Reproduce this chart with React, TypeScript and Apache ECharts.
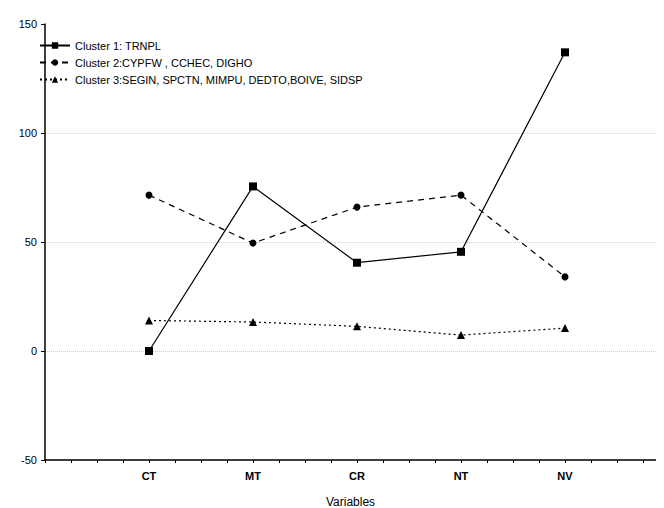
import React, { useEffect, useRef } from "react";
import * as echarts from "echarts";

const categories = ["CT", "MT", "CR", "NT", "NV"];
const seriesNames = [
  "Cluster 1: TRNPL",
  "Cluster 2:CYPFW , CCHEC, DIGHO",
  "Cluster 3:SEGIN, SPCTN, MIMPU, DEDTO,BOIVE, SIDSP",
];
const cluster1 = [0, 75.5, 40.5, 45.5, 137];
const cluster2 = [71.5, 49.5, 66, 71.5, 34];
const cluster3 = [14, 13.3, 11.3, 7.3, 10.5];

export default function App() {
  const ref = useRef<HTMLDivElement>(null);
  useEffect(() => {
    const chart = echarts.init(ref.current!, null, { renderer: "svg" });
    const mk = (vals: number[]) => vals.map((v, i) => [i + 1, v]);
    const lineTypes: any[] = ["solid", [6, 5], [2, 3]];
    const symbols = ["rect", "circle", "triangle"];
    const all = [cluster1, cluster2, cluster3];
    chart.setOption({
      animation: false,
      textStyle: { fontFamily: "Arial, Liberation Sans, sans-serif" },
      grid: { left: 37, right: 0, top: 16, bottom: 48, outerBoundsMode: "none", containLabel: false } as any,
      legend: {
        left: 26,
        top: 27,
        orient: "vertical",
        itemGap: 6,
        itemWidth: 30,
        itemHeight: 8,
        textStyle: { fontSize: 11, color: "#000" },
        data: seriesNames,
      },
      xAxis: {
        type: "value",
        min: 0,
        max: 5.875,
        interval: 0.25,
        name: "Variables",
        nameLocation: "middle",
        nameGap: 36,
        nameTextStyle: { fontSize: 12, color: "#000" },
        axisLine: { onZero: false, lineStyle: { color: "#000", width: 1.5 } },
        axisTick: { lineStyle: { color: "#000" }, length: 3, inside: false },
        splitLine: { show: false },
        axisLabel: {
          fontSize: 11,
          fontWeight: "bold",
          color: "#000",
          margin: 10,
          showMaxLabel: false,
          formatter: (v: number) =>
            Number.isInteger(v) && v >= 1 && v <= 5 ? categories[v - 1] : "",
        },
      },
      yAxis: {
        type: "value",
        min: -50,
        max: 150,
        interval: 50,
        axisLine: { show: true, lineStyle: { color: "#000", width: 1.5 } },
        axisTick: { show: true, length: 4, lineStyle: { color: "#000" } },
        axisLabel: { fontSize: 11, color: "#000" },
        splitLine: {
          show: true,
          lineStyle: { color: "#d0d0d0", type: "dotted" },
          showMaxLine: false,
        } as any,
      },
      series: all.map((vals, i) => ({
        name: seriesNames[i],
        type: "line",
        data: mk(vals),
        symbol: symbols[i],
        symbolSize: i === 1 ? 7 : 8,
        itemStyle: { color: "#000" },
        lineStyle: { color: "#000", width: 1.2, type: lineTypes[i] },
      })),
    });
    return () => chart.dispose();
  }, []);
  return <div ref={ref} style={{ width: 648, height: 500 }} />;
}
